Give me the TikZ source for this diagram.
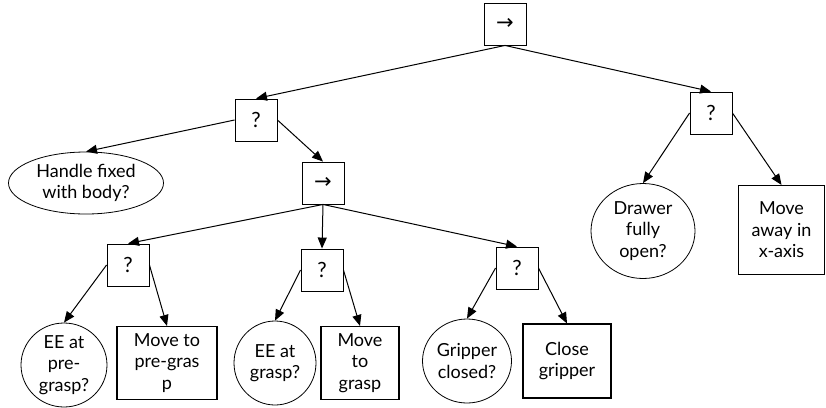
\documentclass[tikz,border=0pt]{standalone}
\usepackage{fontspec}
\setmainfont{Lato}
\newfontfamily\arrowfont{DejaVu Sans}
\usetikzlibrary{arrows.meta,shapes.geometric}

\tikzset{
	ctrlbox/.style={draw, line width=0.9pt, minimum width=42pt, minimum height=42pt, inner sep=0pt, font=\fontsize{21pt}{24pt}\selectfont},
	condnode/.style={draw, ellipse, line width=0.8pt, align=center, inner sep=0pt},
	actbox/.style={draw, line width=1.1pt, align=center, inner sep=0pt},
	link/.style={-{Triangle[length=11pt,width=9pt]}, line width=1pt},
}

\begin{document}
\begin{tikzpicture}[x=1pt, y=-1pt, font=\fontsize{18pt}{21.5pt}\selectfont]
		%%%%% START %%%%%
		\useasboundingbox (0, 0) rectangle (826, 407);
		
		\node[ctrlbox] (root) at (505, 24) {\arrowfont →};
		\node[ctrlbox] (qa) at (256, 120) {?};
		\node[ctrlbox] (qb) at (711, 113) {?};
		
		\node[condnode, minimum width=155pt, minimum height=62pt] (handle) at (86, 183) {Handle fixed\\with body?};
		\node[ctrlbox] (seq) at (323, 183) {\arrowfont →};
		
		\node[ctrlbox] (q1) at (128, 265) {?};
		\node[ctrlbox] (q2) at (322, 270) {?};
		\node[ctrlbox] (q3) at (517, 268) {?};
		
		\node[condnode, minimum width=86pt, minimum height=84pt] (ee1) at (64, 365) {EE at\\pre-\\grasp?};
		\node[actbox, minimum width=100pt, minimum height=73pt] (mv1) at (167, 363) {Move to\\pre-gras\\p};
		\node[condnode, minimum width=82pt, minimum height=84pt] (ee2) at (275, 363) {EE at\\grasp?};
		\node[actbox, minimum width=78pt, minimum height=73pt] (mv2) at (360, 363) {Move\\to\\grasp};
		\node[condnode, minimum width=89pt, minimum height=84pt] (grip) at (467, 361) {Gripper\\closed?};
		\node[actbox, minimum width=88pt, minimum height=74pt] (close) at (567, 361) {Close\\gripper};
		
		\node[condnode, minimum width=104pt, minimum height=95pt] (drawer) at (643, 231) {Drawer\\fully\\open?};
		\node[actbox, minimum width=86pt, minimum height=89pt] (away) at (781.5, 230) {Move\\away in\\x-axis};
		
		\draw[link] (root.south) -- (qa.north);
		\draw[link] (root.south) -- (qb.north);
		
		\draw[link] (qa.west) -- (handle.north);
		\draw[link] (qa.east) -- (seq.north);
		
		\draw[link] (seq.south) -- (q1.north);
		\draw[link] (seq.south) -- (q2.north);
		\draw[link] (seq.south) -- (q3.north);
		
		\draw[link] (q1.west) -- (ee1.north);
		\draw[link] (q1.east) -- (mv1.north);
		\draw[link] (q2.west) -- (ee2.north);
		\draw[link] (q2.east) -- (mv2.north);
		\draw[link] (q3.west) -- (grip.north);
		\draw[link] (q3.east) -- (close.north);
		
		\draw[link] (qb.west) -- (drawer.north);
		\draw[link] (qb.east) -- (away.north);
		
		%%%%% END %%%%%
	\end{tikzpicture}
\end{document}
